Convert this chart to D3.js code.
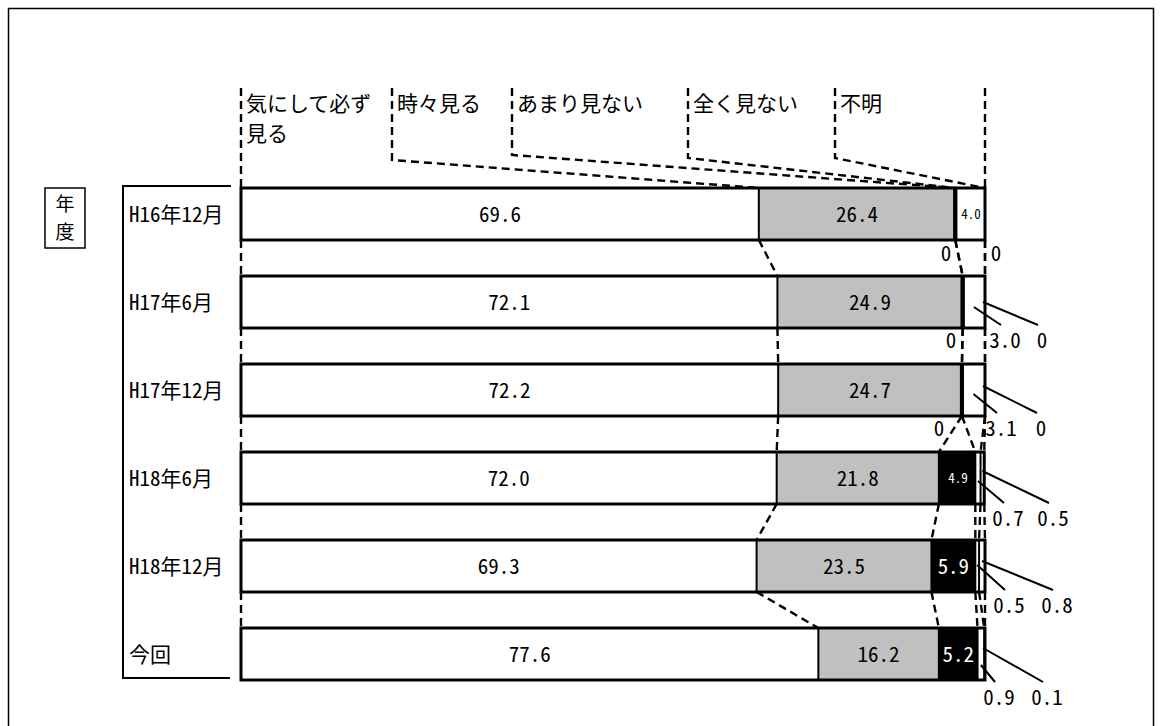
<!DOCTYPE html>
<html lang="ja">
<head>
<meta charset="utf-8">
<script src="https://cdn.jsdelivr.net/npm/d3@7"></script>
<style>
  html, body { margin: 0; padding: 0; background: #fff; }
  svg { display: block; }
</style>
</head>
<body>
<svg id="chart" width="1163" height="726"></svg>
<script>
// Survey periods (rows) and response categories (stacked segments)
const years = ["H16年12月", "H17年6月", "H17年12月", "H18年6月", "H18年12月", "今回"];
const categories = ["気にして必ず見る", "時々見る", "あまり見ない", "全く見ない", "不明"];

// Percentages per category, one value per period
const always    = [69.6, 72.1, 72.2, 72.0, 69.3, 77.6];
const sometimes = [26.4, 24.9, 24.7, 21.8, 23.5, 16.2];
const rarely    = [0, 0, 0, 4.9, 5.9, 5.2];
const never     = [4.0, 3.0, 3.1, 0.7, 0.5, 0.9];
const unknown   = [0, 0, 0, 0.5, 0.8, 0.1];

const axisLabel = "年度";

const series = [always, sometimes, rarely, never, unknown];
const table = years.map((y, i) => {
  const row = { year: y };
  categories.forEach((c, j) => { row[c] = series[j][i]; });
  return row;
});

const fills = ["#ffffff", "#c0c0c0", "#000000", "#ffffff", "#ffffff"];
const jpFont = '"Noto Sans CJK JP", "Noto Sans", sans-serif';
const monoFont = '"Noto Sans Mono CJK JP", "Noto Sans CJK JP", "DejaVu Sans Mono", monospace';
const monoWeight = 300;

const svg = d3.select("#chart");

// outer frame
svg.append("rect")
  .attr("x", 8.5).attr("y", 8.5).attr("width", 1145).attr("height", 730)
  .attr("fill", "none").attr("stroke", "#000").attr("stroke-width", 1.5);

const x = d3.scaleLinear().domain([0, 100]).range([241, 985]);
const y = d3.scaleBand().domain(years)
  .range([170, 170 + 88 * 6])
  .paddingInner(36 / 88).paddingOuter(18 / 88);
const bw = y.bandwidth();

const stacked = d3.stack().keys(categories)(table);
// boundaries per row: start of each segment plus the bar end
const bounds = years.map((yr, i) => {
  const b = stacked.map(s => s[i][0]);
  b.push(stacked[stacked.length - 1][i][1]);
  return b;
});

const dash = "8,5";
const dashWidth = 2.4;

// legend headers with dashed leaders into the first bar
const legendX = [241, 392, 512, 688, 835];
const legendBend = [0, 160, 155, 158, 158];
const legendTop = 88;
const top0 = y(years[0]);

const legend = svg.append("g");
categories.forEach((c, j) => {
  const lx = legendX[j];
  const tx = x(bounds[0][j]);
  const pts = j === 0
    ? [[lx, legendTop], [tx, top0]]
    : [[lx, legendTop], [lx, legendBend[j]], [tx, top0]];
  legend.append("path")
    .attr("d", d3.line()(pts))
    .attr("fill", "none").attr("stroke", "#000")
    .attr("stroke-width", dashWidth).attr("stroke-dasharray", dash);
});
legend.append("path")
  .attr("d", d3.line()([[x(100), legendTop], [x(100), top0]]))
  .attr("fill", "none").attr("stroke", "#000")
  .attr("stroke-width", dashWidth).attr("stroke-dasharray", dash);

const legendLines = [["気にして必ず", "見る"], ["時々見る"], ["あまり見ない"], ["全く見ない"], ["不明"]];
legendLines.forEach((lines, j) => {
  const t = legend.append("text")
    .attr("x", legendX[j] + 5).attr("y", 111)
    .attr("font-family", jpFont).attr("font-size", 21).attr("fill", "#000");
  lines.forEach((ln, k) => {
    t.append("tspan").attr("x", legendX[j] + 5).attr("dy", k === 0 ? 0 : 30).text(ln);
  });
});

// dashed series lines between consecutive bars
const connectors = svg.append("g");
for (let i = 0; i < years.length - 1; i++) {
  const yb = y(years[i]) + bw;
  const yt = y(years[i + 1]);
  bounds[i].forEach((v, k) => {
    connectors.append("line")
      .attr("x1", x(v)).attr("y1", yb)
      .attr("x2", x(bounds[i + 1][k])).attr("y2", yt)
      .attr("stroke", "#000").attr("stroke-width", dashWidth)
      .attr("stroke-dasharray", dash);
  });
}

// bars
const bars = svg.append("g");
years.forEach((yr, i) => {
  const g = bars.append("g");
  const top = y(yr);
  stacked.forEach((s, j) => {
    const d = s[i];
    g.append("rect")
      .attr("x", x(d[0])).attr("y", top)
      .attr("width", Math.max(0, x(d[1]) - x(d[0]))).attr("height", bw)
      .attr("fill", fills[j]);
  });
  // separators between segments (zero-width segments show as a heavier rule)
  for (let j = 1; j < categories.length; j++) {
    const v = bounds[i][j];
    if (v >= 100) continue;
    g.append("line")
      .attr("x1", x(v)).attr("x2", x(v))
      .attr("y1", top).attr("y2", top + bw)
      .attr("stroke", "#000")
      .attr("stroke-width", series[j][i] === 0 || series[j - 1][i] === 0 ? 4 : 2);
  }
  g.append("rect")
    .attr("x", x(0)).attr("y", top)
    .attr("width", x(bounds[i][categories.length]) - x(0)).attr("height", bw)
    .attr("fill", "none").attr("stroke", "#000").attr("stroke-width", 3);
});

const fmt = v => v === 0 ? "0" : v.toFixed(1);

// values printed inside the segments
const inner = svg.append("g");
years.forEach((yr, i) => {
  const top = y(yr);
  stacked.forEach((s, j) => {
    const v = series[j][i];
    if (v < 4) return;
    const d = s[i];
    const small = v < 5;
    inner.append("text")
      .attr("x", (x(d[0]) + x(d[1])) / 2 + (small ? 1 : 0))
      .attr("y", top + bw / 2)
      .attr("dy", "0.36em")
      .attr("text-anchor", "middle")
      .attr("font-family", monoFont).attr("font-weight", monoWeight)
      .attr("font-size", small ? 13 : 21)
      .attr("fill", j === 2 ? "#fff" : "#000")
      .text(fmt(v));
  });
});

// values for thin segments, placed below the bar (offsets from bar end / bar bottom)
const outside = [
  [{ seg: 2, dx: -39, dy: 13 }, { seg: 4, dx: 11, dy: 13 }],
  [{ seg: 2, dx: -34, dy: 12 }, { seg: 3, dx: 20, dy: 12, lead: 31 }, { seg: 4, dx: 57, dy: 12, lead: 26 }],
  [{ seg: 2, dx: -46, dy: 12 }, { seg: 3, dx: 16, dy: 12, lead: 30 }, { seg: 4, dx: 56, dy: 12, lead: 22 }],
  [{ seg: 3, dx: 23, dy: 14, lead: 29 }, { seg: 4, dx: 68, dy: 14, lead: 19 }],
  [{ seg: 3, dx: 24, dy: 13, lead: 25 }, { seg: 4, dx: 72, dy: 13, lead: 21 }],
  [{ seg: 3, dx: 14, dy: 17, lead: 37 }, { seg: 4, dx: 62, dy: 17, lead: 20 }]
];
const outer = svg.append("g");
outside.forEach((items, i) => {
  const top = y(years[i]);
  const xe = x(100);
  items.forEach(it => {
    const v = series[it.seg][i];
    const cx = xe + it.dx;
    const cy = top + bw + it.dy;
    if (it.lead !== undefined) {
      const d = stacked[it.seg][i];
      const sx = Math.min((x(d[0]) + x(d[1])) / 2, xe - 2);
      outer.append("line")
        .attr("x1", sx).attr("y1", top + it.lead)
        .attr("x2", cx - 4).attr("y2", cy - 15)
        .attr("stroke", "#000").attr("stroke-width", 2);
    }
    outer.append("text")
      .attr("x", cx).attr("y", cy).attr("dy", "0.36em")
      .attr("text-anchor", "middle")
      .attr("font-family", monoFont).attr("font-weight", monoWeight)
      .attr("font-size", 21).attr("fill", "#000")
      .text(fmt(v));
  });
});

// period labels with bracket
const rowAxis = svg.append("g");
rowAxis.append("path")
  .attr("d", `M231,186H123V${y(years[years.length - 1]) + bw - 2}H230`)
  .attr("fill", "none").attr("stroke", "#000").attr("stroke-width", 2);
years.forEach(yr => {
  rowAxis.append("text")
    .attr("x", 129).attr("y", y(yr) + bw / 2).attr("dy", "0.36em")
    .attr("font-family", monoFont).attr("font-weight", monoWeight)
    .attr("font-size", 21).attr("fill", "#000")
    .text(yr);
});

// axis title box
const box = svg.append("g");
box.append("rect")
  .attr("x", 45).attr("y", 188).attr("width", 40).attr("height", 60)
  .attr("fill", "#fff").attr("stroke", "#000").attr("stroke-width", 1.5);
Array.from(axisLabel).forEach((ch, k) => {
  box.append("text")
    .attr("x", 65).attr("y", 204 + k * 28).attr("dy", "0.36em")
    .attr("text-anchor", "middle")
    .attr("font-family", jpFont).attr("font-size", 19).attr("fill", "#000")
    .text(ch);
});
</script>
</body>
</html>
